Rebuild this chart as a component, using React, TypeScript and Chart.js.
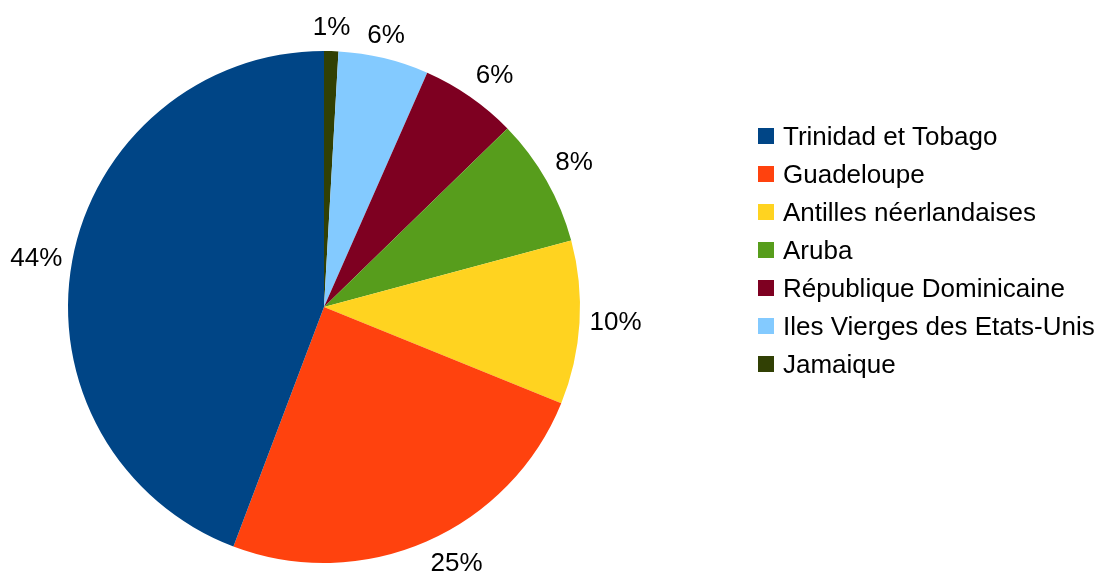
import React, { useEffect, useRef } from "react";
import { Chart, registerables } from "chart.js";

Chart.register(...registerables);

const categories = [
  "Trinidad et Tobago",
  "Guadeloupe",
  "Antilles néerlandaises",
  "Aruba",
  "République Dominicaine",
  "Iles Vierges des Etats-Unis",
  "Jamaique",
];
const shares = [44.2, 24.6, 10.3, 8.1, 6.1, 5.7, 0.9];
const colors = ["#004586", "#ff420e", "#ffd320", "#579d1c", "#7e0021", "#83caff", "#314004"];

const FONT_FAMILY = '"Liberation Sans", Arial, sans-serif';
const FONT_SIZE = 26;

// LibreOffice draws slices counter-clockwise; Chart.js draws clockwise, so reverse the order.
const order = categories.map((_, i) => categories.length - 1 - i);

const labelPlugin = {
  id: "outsideLabels",
  afterDatasetsDraw(chart: any) {
    const ctx = chart.ctx;
    const meta = chart.getDatasetMeta(0);
    const data = chart.data.datasets[0].data as number[];
    const total = data.reduce((a, b) => a + b, 0);
    const gap = 10;
    const s = Math.sin((22.5 * Math.PI) / 180);
    ctx.save();
    ctx.font = `${FONT_SIZE}px ${FONT_FAMILY}`;
    ctx.fillStyle = "#000000";
    meta.data.forEach((arc: any, i: number) => {
      const p = arc.getProps(["x", "y", "startAngle", "endAngle", "outerRadius"], true);
      const mid = (p.startAngle + p.endAngle) / 2;
      const dx = Math.cos(mid);
      const dy = Math.sin(mid);
      const px = p.x + dx * (p.outerRadius + gap);
      const py = p.y + dy * (p.outerRadius + gap);
      ctx.textAlign = Math.abs(dx) < s ? "center" : dx > 0 ? "left" : "right";
      ctx.textBaseline = Math.abs(dy) < s ? "middle" : dy < 0 ? "bottom" : "top";
      const pct = Math.round((data[i] / total) * 100);
      ctx.fillText(pct + "%", px, py);
    });
    ctx.restore();
  },
};

const legendPlugin = {
  id: "sideLegend",
  afterDraw(chart: any) {
    const ctx = chart.ctx;
    ctx.save();
    ctx.font = `${FONT_SIZE}px ${FONT_FAMILY}`;
    ctx.textAlign = "left";
    ctx.textBaseline = "alphabetic";
    categories.forEach((name, i) => {
      const cy = 136 + 38 * i;
      ctx.fillStyle = colors[i];
      ctx.fillRect(758, cy - 8, 16, 16);
      ctx.fillStyle = "#000000";
      ctx.fillText(name, 783, cy + 9);
    });
    ctx.restore();
  },
};

export default function App() {
  const canvasRef = useRef<HTMLCanvasElement | null>(null);

  useEffect(() => {
    if (!canvasRef.current) return;
    const chart = new Chart(canvasRef.current, {
      type: "pie",
      data: {
        labels: order.map((i) => categories[i]),
        datasets: [
          {
            data: order.map((i) => shares[i]),
            backgroundColor: order.map((i) => colors[i]),
            borderWidth: 0,
            hoverOffset: 0,
            offset: 0,
          },
        ],
      },
      options: {
        responsive: false,
        animation: false,
        events: [],
        layout: { padding: { left: 68, top: 51, right: 521, bottom: 16 } },
        plugins: {
          legend: { display: false },
          tooltip: { enabled: false },
          title: { display: false },
        },
      },
      plugins: [labelPlugin, legendPlugin],
    });
    return () => chart.destroy();
  }, []);

  return (
    <div style={{ position: "absolute", left: 0, top: 0, width: 1101, height: 579, background: "#ffffff" }}>
      <canvas ref={canvasRef} width={1101} height={579} />
    </div>
  );
}
